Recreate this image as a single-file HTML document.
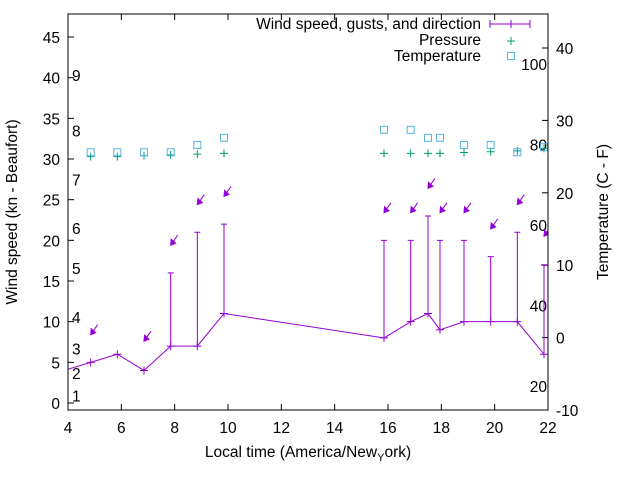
<!DOCTYPE html>
<html><head><meta charset="utf-8"><style>
body{margin:0;background:#fff;}
svg text{font-family:"Liberation Sans",sans-serif;font-size:15.5px;fill:#000;}
</style></head><body>
<svg id="chart" width="640" height="480" xmlns="http://www.w3.org/2000/svg">
<g id="grid"></g>
<g id="marks"></g>
<rect x="68" y="14" width="480" height="396" fill="none" stroke="#000" stroke-width="1"/>
<text transform="translate(17,212) rotate(-90)" text-anchor="middle">Wind speed (kn - Beaufort)</text>
<text transform="translate(608,212) rotate(-90)" text-anchor="middle">Temperature (C - F)</text>
<text x="308" y="457" text-anchor="middle">Local time (America/New<tspan font-size="11" dy="4">Y</tspan><tspan dy="-4">ork)</tspan></text>
<g>
<text x="481" y="29" text-anchor="end">Wind speed, gusts, and direction</text>
<path d="M490,24H530M490,20V28M530,20V28M511,20V28" stroke="#9400d3" fill="none"/>
<text x="481" y="45" text-anchor="end">Pressure</text>
<path d="M507,41H515M511,37V45" stroke="#009e73"/>
<text x="481" y="61" text-anchor="end">Temperature</text>
<rect x="507.5" y="52.5" width="7" height="7" fill="none" stroke="#56b4e9"/>
</g>
</svg>
<script>
const times=[3.85,4.85,5.85,6.85,7.85,8.85,9.85,15.85,16.85,17.5,17.95,18.85,19.85,20.85,21.85];
const speeds=[4,5,6,4,7,7,11,8,10,11,9,10,10,10,6];
const gusts=[null,null,null,null,16,21,22,20,20,23,20,20,18,21,17];
const arrowY=[null,8.4,null,7.6,19.4,24.4,25.4,23.4,23.4,26.4,23.4,23.4,21.4,24.4,20.5];
const pressure=[null,30.3,30.3,30.4,30.5,30.6,30.7,30.7,30.7,30.7,30.7,30.8,30.9,31,31.3];
const tempC=[null,25.6,25.6,25.6,25.6,26.6,27.6,28.7,28.7,27.6,27.6,26.6,26.6,25.6,26.3];
const xTicks=[4,6,8,10,12,14,16,18,20,22];
const yTicks=[0,5,10,15,20,25,30,35,40,45];
const y2Ticks=[-10,0,10,20,30,40];
const beaufort=[[1,0.9],[2,3.7],[3,6.7],[4,10.6],[5,16.6],[6,21.5],[7,27.5],[8,33.5],[9,40.3]];
const fahr=[20,40,60,80,100];
const L=68,R=548,T=14,B=410;
const X=t=>L+(t-4)/18*(R-L);
const Y=v=>403-v*8.133;
const Y2=c=>B-(c+10)*7.24;
const NS="http://www.w3.org/2000/svg";
const g=document.getElementById('grid'),m=document.getElementById('marks');
function el(tag,at,parent,txt){const e=document.createElementNS(NS,tag);for(const k in at)e.setAttribute(k,at[k]);if(txt!==undefined)e.textContent=txt;(parent||m).appendChild(e);return e;}
xTicks.forEach(t=>{
 const p=el('path',{d:`M${X(t)},${B}v-6M${X(t)},${T}v6`,stroke:'#000'},g);
 
 const tx=el('text',{x:X(t),y:B+23,'text-anchor':'middle'},g,String(t));
 
});
yTicks.forEach(v=>{
 const p=el('path',{d:`M${L},${Y(v)}h6`,stroke:'#000'},g);
 
 const tx=el('text',{x:L-8,y:Y(v)+6,'text-anchor':'end'},g,String(v));
 
});
y2Ticks.forEach(v=>{
 const p=el('path',{d:`M${R},${Y2(v)}h-6`,stroke:'#000'},g);
 
 const tx=el('text',{x:R+8,y:Y2(v)+6,'text-anchor':'start'},g,String(v));
 
});
beaufort.forEach(b=>{
 const tx=el('text',{x:72,y:Y(b[1])+6},g,String(b[0]));
 
});
fahr.forEach(f=>{
 const tx=el('text',{x:R-1,y:Y2((f-32)*5/9)+6,'text-anchor':'end'},g,String(f));
 
});
const clip=el('clipPath',{id:'pc'},m);el('rect',{x:L,y:T,width:R-L,height:B-T},clip);
const pg=el('g',{'clip-path':'url(#pc)'});

const pts=times.map((t,i)=>`${X(t)},${Y(speeds[i])}`).join(' ');
const line=el('polyline',{points:pts,fill:'none',stroke:'#9400d3'},pg);

times.forEach((t,i)=>{
 const x=X(t),y=Y(speeds[i]);
 const p=el('path',{d:`M${x-4},${y}h8M${x},${y-4}v8`,stroke:'#9400d3'},pg);
 
 if(gusts[i]!=null){const gy=Y(gusts[i]);
  const e=el('path',{d:`M${x},${y}V${gy}M${x-3},${gy}h6`,stroke:'#9400d3',fill:'none'},pg);
  }
 if(arrowY[i]!=null){const ay=Y(arrowY[i]);
  const a=el('path',{d:`M${x+7},${ay-10}L${x},${ay}M${x},${ay}l0.5,-6l4.5,4z`,stroke:'#9400d3',fill:'#9400d3'},pg);
  }
 if(pressure[i]!=null){const py=Y(pressure[i]);
  const p2=el('path',{d:`M${x-4},${py}h8M${x},${py-4}v8`,stroke:'#009e73'},pg);
  }
 if(tempC[i]!=null){const ty=Y2(tempC[i]);
  const r=el('rect',{x:x-3.5,y:ty-3.5,width:7,height:7,fill:'none',stroke:'#56b4e9'},pg);
  }
});
</script>
</body></html>
